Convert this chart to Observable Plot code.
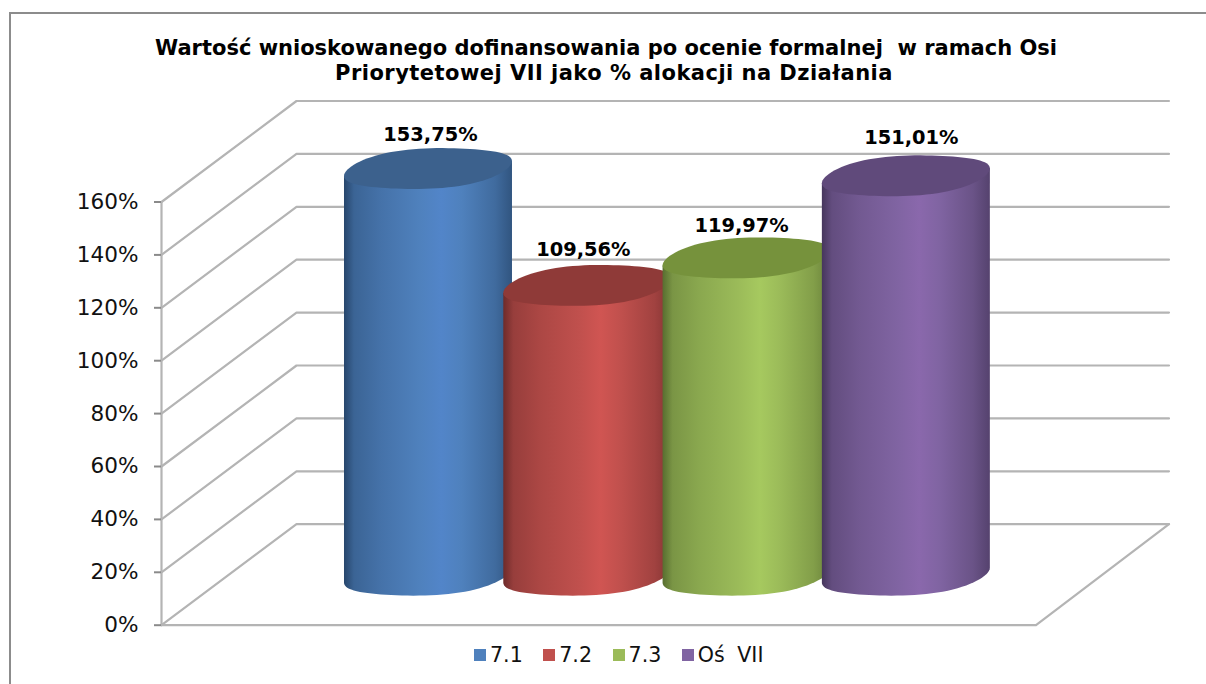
<!DOCTYPE html>
<html><head><meta charset="utf-8">
<script src="https://cdn.jsdelivr.net/npm/d3@7"></script>
<script src="https://cdn.jsdelivr.net/npm/@observablehq/plot@0.6"></script>
<style>
html,body{margin:0;padding:0;background:#fff;overflow:hidden;width:1206px;height:684px;font-family:"DejaVu Sans",sans-serif}
#frame{position:absolute;left:9px;top:12px;right:0;bottom:0;border-left:2px solid #8c8c8c;border-top:2px solid #8c8c8c}
#title{position:absolute;left:0;top:36px;width:1212px;text-align:center;font-weight:700;font-size:21px;line-height:24.5px;white-space:pre;color:#000}
#title .l2{position:relative;left:8px;letter-spacing:.47px}
#chart{position:absolute;left:0;top:88px}
#legend{position:absolute;left:474px;top:641px;display:flex;align-items:center;font-size:20.6px;word-spacing:6px;color:#111;line-height:28px}
#legend span.k{display:inline-block;width:12px;height:12px;margin-right:4px}
#legend span.t{margin-right:20.5px}
</style></head>
<body>
<div id="frame"></div>
<div id="title"><div>Wartość wnioskowanego dofinansowania po ocenie formalnej  w ramach Osi</div><div class="l2">Priorytetowej VII jako % alokacji na Działania</div></div>
<div id="chart"></div>
<div id="legend"></div>
<script>
const categories = ["7.1", "7.2", "7.3", "Oś VII"];
const values = [153.75, 109.56, 119.97, 151.01];
const yTicks = [0, 20, 40, 60, 80, 100, 120, 140, 160];
const mainColors = ["#4f81bd", "#c0504d", "#9bbb59", "#8064a2"];
const peakColors = ["#5285c9", "#d05552", "#a6c95f", "#8a68ac"];
const edgeColors = ["#27466c", "#6e2b2a", "#586e30", "#46365c"];
const topColors = ["#3c618d", "#8f3a38", "#76923c", "#604a7b"];

// 3D projection, in data units (index along x, percent along y)
const pxPerIndex = 159.3, pxPerPct = 423.2 / 160;
const ix = px => px / pxPerIndex, pc = px => px / pxPerPct;
const xMin = -1.673, xMax = 3.817;
const depthX = ix(135), depthXRight = ix(133), depthY = pc(101);
const seriesIdx = categories.map((_, i) => i);

const grid = yTicks.flatMap(v => [
  {g: v, x: xMin, y: v},
  {g: v, x: xMin + depthX, y: v + depthY},
  {g: v, x: xMax + depthXRight, y: v + depthY}
]);
const floorEdge = [
  {x: xMin, y: 0}, {x: xMax, y: 0}, {x: xMax + depthXRight, y: depthY}
];
const wall = [{x: xMin, y: 0}, {x: xMin, y: 160}];

// Cylinder outline: an ellipse with a slight tilt towards its ends
const a = ix(84), t1 = pc(3), t2 = pc(4.5), b = pc(20.2), lift = pc(50);
const angles = d3.range(0, 361, 4).map(d => d * Math.PI / 180);
const pt = (i, v, t) => {
  const c = Math.cos(t);
  return {x: i + a * c, y: v + lift + t1 * c + t2 * c * c * c + b * Math.sin(t)};
};
const topCap = (i, v) => angles.map(t => pt(i, v, t));
const body = (i, v) => {
  const lower = angles.filter(t => t >= Math.PI - 1e-6 && t <= 2 * Math.PI + 1e-6).map(t => pt(i, 0, t));
  return [pt(i, v, 0), pt(i, v, Math.PI), ...lower];
};

const defs = () => {
  const d = d3.create("svg:defs");
  seriesIdx.forEach(i => {
    const mix = d3.interpolateRgb(edgeColors[i], mainColors[i]);
    const g = d.append("linearGradient").attr("id", "cyl" + i).attr("x1", 0).attr("x2", 1).attr("y1", 0).attr("y2", 0);
    [[0, edgeColors[i]], [0.06, mix(0.5)], [0.22, mix(0.75)], [0.45, mainColors[i]], [0.58, peakColors[i]],
     [0.7, mainColors[i]], [0.9, mix(0.62)], [1, mix(0.25)]]
      .forEach(([o, c]) => g.append("stop").attr("offset", o).attr("stop-color", c));
  });
  return d.node();
};

const gridStroke = "#b4b4b4";
const cylinders = seriesIdx.flatMap(i => [
  Plot.line(body(i, values[i]), {x: "x", y: "y", fill: `url(#cyl${i})`, stroke: "none"}),
  Plot.line(topCap(i, values[i]), {x: "x", y: "y", fill: topColors[i], stroke: "none"})
]);
const nudgeX = [2.5, -4, -5, 5.5], nudgeY = [-83.5, -86, -82, -88];
const labels = seriesIdx.map(i => Plot.text([values[i]], {
  x: () => i, y: d => d,
  text: d => d.toFixed(2).replace(".", ",") + "%",
  dx: nudgeX[i], dy: nudgeY[i], fontSize: 19.4, fontWeight: 700, fill: "#000"
}));

const plot = Plot.plot({
  width: 1206, height: 552,
  marginLeft: 161, marginRight: 170.5, marginTop: 113.5, marginBottom: 15.3,
  x: {domain: [xMin, xMax], axis: null},
  y: {domain: [0, 160], ticks: yTicks},
  style: {fontFamily: "DejaVu Sans", background: "transparent", overflow: "visible"},
  marks: [
    defs,
    Plot.line(grid, {x: "x", y: "y", z: "g", stroke: gridStroke, strokeWidth: 2.2}),
    Plot.line(floorEdge, {x: "x", y: "y", stroke: gridStroke, strokeWidth: 2.2}),
    Plot.line(wall, {x: "x", y: "y", stroke: gridStroke, strokeWidth: 2.2}),
    Plot.axisY({ticks: yTicks, tickFormat: d => d + "%", tickSize: 7, tickPadding: 16, fontSize: 21.6, stroke: "#8a8a8a", strokeWidth: 2, fill: "#111", label: null}),
    ...cylinders,
    ...labels
  ]
});
document.getElementById("chart").append(plot);

const legend = document.getElementById("legend");
categories.forEach((c, i) => {
  const k = document.createElement("span"); k.className = "k"; k.style.background = mainColors[i];
  const t = document.createElement("span"); t.className = "t"; t.textContent = c;
  legend.append(k, t);
});
</script>
</body></html>
